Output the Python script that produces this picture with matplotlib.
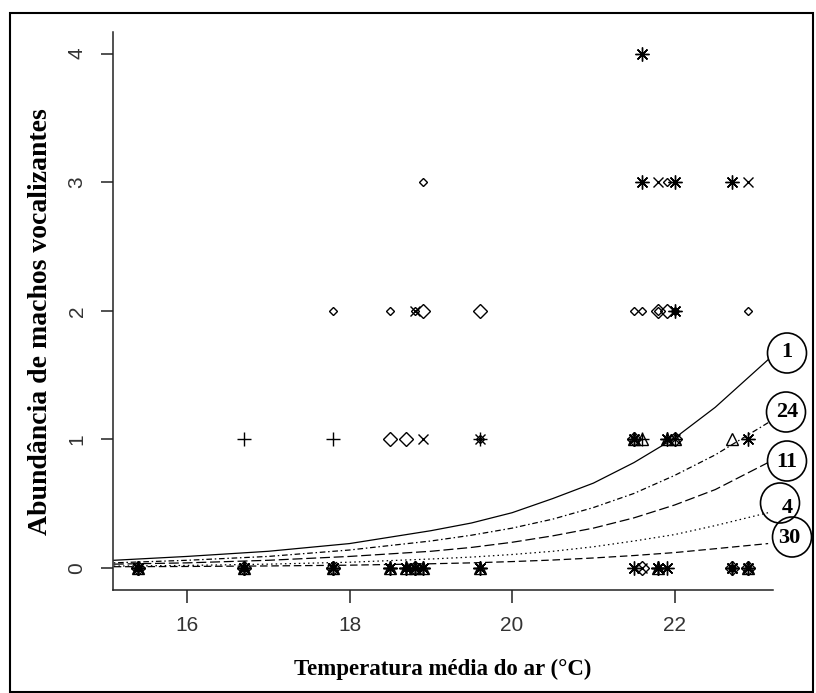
import matplotlib

matplotlib.use("Agg")
import matplotlib.pyplot as plt  # noqa: E402
from matplotlib.patches import Ellipse, Rectangle  # noqa: E402

# sampled nights: mean air temperature (°C)
temps = [15.4, 16.7, 17.8, 18.5, 18.7, 18.8, 18.9, 19.6, 21.5, 21.6, 21.8, 21.9, 22.0, 22.7, 22.9]

# calling males per night, one list per plotting symbol
ast_a = [0, 0, 0, 0, 0, 0, 0, 0, 1, 4, 0, 0, 3, 3, 1]
ast_b = [0, 0, 0, 0, 0, 0, 0, 0, 0, 3, 0, 1, 2, 0, 0]
cross = [0, 0, 0, 0, 0, 2, 1, 1, 0, 0, 3, 0, 1, 0, 3]
plus = [0, 1, 1, 0, 0, 0, 0, 1, 1, 1, 0, 1, 1, 0, 0]
tri = [0, 0, 0, 0, 0, 0, 0, 0, 1, 1, 0, 1, 1, 1, 0]
dia_small = [0, 0, 2, 2, 0, 2, 3, 1, 2, 2, 2, 3, 2, 0, 2]
dia_large = [0, 0, 0, 1, 1, 0, 2, 2, 1, 0, 2, 2, 1, 0, 0]

# fitted curves, labelled by species number
curve_x = [15.1, 16, 17, 18, 19, 19.5, 20, 20.5, 21, 21.5, 22, 22.5, 23.15]
fit_1 = [0.06, 0.09, 0.13, 0.19, 0.29, 0.35, 0.43, 0.54, 0.66, 0.82, 1.01, 1.25, 1.62]
fit_24 = [0.04, 0.06, 0.09, 0.14, 0.21, 0.255, 0.31, 0.38, 0.47, 0.58, 0.72, 0.88, 1.13]
fit_11 = [0.03, 0.04, 0.06, 0.09, 0.13, 0.16, 0.20, 0.25, 0.31, 0.39, 0.49, 0.61, 0.82]
fit_4 = [0.015, 0.02, 0.03, 0.045, 0.07, 0.085, 0.105, 0.13, 0.165, 0.21, 0.26, 0.33, 0.43]
fit_30 = [0.01, 0.012, 0.016, 0.022, 0.033, 0.04, 0.05, 0.062, 0.078, 0.097, 0.12, 0.15, 0.19]
curve_labels = ["1", "24", "11", "4", "30"]

W, H = 816, 693
fig = plt.figure(figsize=(W / 100, H / 100), dpi=100)
ax = fig.add_axes([113 / W, 1 - 590 / H, 660 / W, 558 / H])

markers = [
    (ast_a, (8, 2, 0), 10),
    (ast_b, (8, 2, 0), 10),
    (cross, "x", 7),
    (plus, "+", 10),
    (tri, "^", 8),
    (dia_small, "D", 4),
    (dia_large, "D", 7.5),
]
for counts, marker, size in markers:
    ax.plot(temps, counts, linestyle="none", marker=marker, ms=size,
            mfc="none", mec="black", mew=1.0)

styles = [
    (fit_1, "-"),
    (fit_24, (0, (1.2, 2.2, 4.5, 2.2))),
    (fit_11, (0, (8, 3))),
    (fit_4, (0, (1.2, 2.5))),
    (fit_30, (0, (6, 3))),
]
for values, ls in styles:
    ax.plot(curve_x, values, color="black", lw=0.9, linestyle=ls, clip_on=False)

ax.set_xlim(15.09, 23.21)
ax.set_ylim(-0.171, 4.168)
ax.set_xticks([16, 18, 20, 22])
ax.set_yticks([0, 1, 2, 3, 4])
for side in ("top", "right"):
    ax.spines[side].set_visible(False)
for side in ("left", "bottom"):
    ax.spines[side].set_linewidth(1.1)
    ax.spines[side].set_color("#222222")
ax.tick_params(length=9, width=1.1, color="#222222", labelsize=15, labelcolor="#333333")
ax.tick_params(axis="x", pad=10)
ax.tick_params(axis="y", pad=10, labelrotation=90)
for lab in ax.get_yticklabels():
    lab.set_verticalalignment("center")
for lab in ax.get_xticklabels() + ax.get_yticklabels():
    lab.set_family("Liberation Sans")

serif = dict(family="Liberation Serif", weight="bold")
fig.text(443 / W, 1 - 669 / H, "Temperatura média do ar (°C)", ha="center", va="center",
         fontsize=16.5, **serif)
fig.text(41 / W, 1 - 322 / H, "Abundância de machos vocalizantes", ha="center", va="center",
         rotation=90, fontsize=20, **serif)

# numbered circles at the ends of the curves
circle_xy = [(787, 353), (786, 412), (787, 461), (780, 503), (792, 537)]
text_xy = [(787, 352), (787, 412), (787, 462), (787, 508), (789, 538)]
for (cx, cy), (tx, ty), label in zip(circle_xy, text_xy, curve_labels):
    fig.patches.append(Ellipse((cx / W, 1 - cy / H), 39 / W, 40 / H, transform=fig.transFigure,
                               fill=False, ec="black", lw=1.2))
    fig.text(tx / W, 1 - ty / H, label, ha="center", va="center", fontsize=16, **serif)

# outer frame
fig.patches.append(Rectangle((10 / W, 1 - 692 / H), 803 / W, 679 / H, transform=fig.transFigure,
                             fill=False, ec="black", lw=1.5))

fig.savefig("out.png", dpi=100)
